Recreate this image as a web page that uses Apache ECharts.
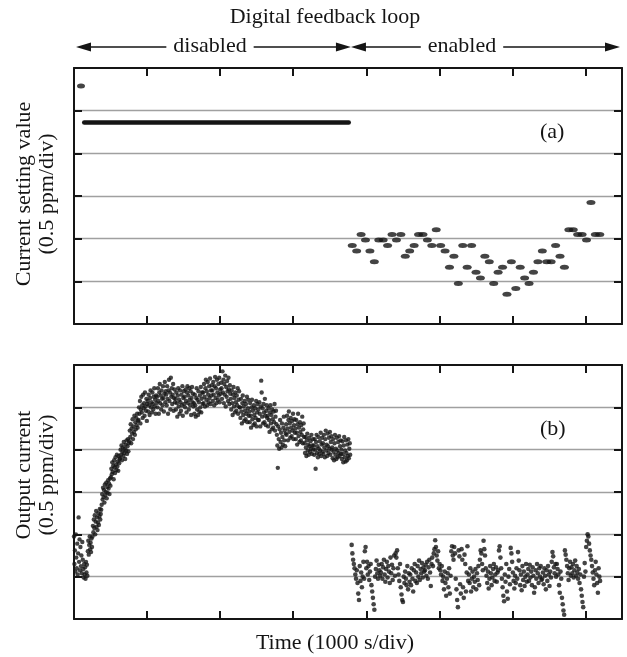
<!DOCTYPE html>
<html>
<head>
<meta charset="utf-8">
<script src="https://cdn.jsdelivr.net/npm/echarts@6/dist/echarts.min.js"></script>
<style>
  html, body { margin: 0; padding: 0; background: #fff; }
  #chart { width: 627px; height: 657px; }
</style>
</head>
<body>
<div id="chart"></div>
<script>
// Units: time in divisions (1000 s/div), values in divisions (0.5 ppm/div).

// Digital feedback loop switch-over time
const switchTime = 3.79;

// (a) current setting value
const settingInitial = [[0.096, 5.58]];
const settingHeld = { start: 0.14, end: 3.76, value: 4.72 };
const settingStart = 3.808;   // first sample after enabling
const settingPeriod = 0.0605; // sample period (div)
const settingValues = [
  1.84, 1.71, 2.095, 1.97, 1.71, 1.46, 1.97, 1.97, 1.84, 2.095,
  1.97, 2.095, 1.59, 1.71, 1.84, 2.095, 2.095, 1.97, 1.84, 2.21,
  1.84, 1.71, 1.33, 1.59, 0.95, 1.84, 1.33, 1.84, 1.21, 1.08,
  1.59, 1.46, 0.95, 1.21, 1.33, 0.70, 1.46, 0.83, 1.33, 1.08,
  0.95, 1.21, 1.46, 1.71, 1.46, 1.46, 1.84, 1.59, 1.33, 2.21,
  2.21, 2.095, 2.095, 1.97, 2.85, 2.095, 2.095
];

// (b) output current, loop disabled
const outputOffSpan = [0.0, 3.78];
const outputOff = [
  1.95, 1.30, 1.62, 1.12, 2.00, 1.45, 1.20, 1.78, 1.05, 1.55, 2.40, 1.35, 1.88, 1.15, 1.70, 1.25, 1.50, 1.08, 1.82, 1.40,
  1.18, 0.98, 1.30, 1.05, 1.22, 0.95, 1.35, 1.10, 1.28, 1.02, 1.60, 1.85, 1.52, 1.75, 1.95, 1.65, 1.80, 1.58, 1.90, 1.70,
  1.95, 2.20, 2.05, 2.35, 2.15, 2.45, 2.00, 2.30, 2.55, 2.18, 2.40, 2.10, 2.28, 2.50, 2.22, 2.42, 2.60, 2.35, 2.48, 2.58,
  2.70, 2.95, 2.82, 3.10, 2.88, 3.05, 2.75, 3.18, 2.92, 3.00, 3.22, 2.85, 3.12, 2.98, 3.28, 3.08, 3.20, 2.95, 3.32, 3.15,
  3.35, 3.55, 3.42, 3.70, 3.48, 3.62, 3.30, 3.75, 3.58, 3.45, 3.82, 3.65, 3.52, 3.88, 3.60, 3.72, 3.50, 3.85, 3.68, 3.78,
  3.80, 4.00, 3.88, 4.10, 3.75, 3.95, 4.05, 3.85, 4.18, 3.92, 4.02, 3.78, 4.12, 3.98, 4.22, 3.90, 4.08, 4.25, 3.96, 4.15,
  4.20, 4.45, 4.30, 4.60, 4.15, 4.50, 4.38, 4.72, 4.25, 4.55, 4.42, 4.80, 4.35, 4.65, 4.48, 4.75, 4.58, 4.85, 4.52, 4.68,
  4.70, 5.00, 4.85, 5.15, 4.62, 4.95, 5.25, 4.88, 5.05, 4.75, 5.30, 4.98, 5.10, 4.80, 5.35, 5.02, 4.92, 5.20, 4.68, 5.08,
  5.15, 4.90, 5.30, 5.05, 4.82, 5.22, 5.40, 5.00, 5.12, 4.88, 5.35, 5.08, 4.95, 5.25, 5.45, 5.02, 5.18, 4.85, 5.28, 5.10,
  5.25, 5.00, 5.45, 5.15, 4.85, 5.35, 5.55, 5.10, 5.28, 4.95, 5.40, 5.20, 5.05, 5.50, 5.22, 4.90, 5.32, 5.60, 5.12, 5.38,
  5.30, 5.05, 5.50, 5.20, 4.85, 5.40, 5.65, 5.15, 5.35, 4.95, 5.70, 5.25, 5.45, 5.08, 5.30, 5.55, 4.92, 5.22, 5.42, 5.12,
  5.20, 4.95, 5.35, 5.10, 4.78, 5.28, 5.45, 5.02, 5.18, 4.85, 5.40, 5.12, 4.92, 5.30, 5.05, 5.50, 4.80, 5.22, 5.38, 5.08,
  5.25, 5.00, 5.42, 5.15, 4.88, 5.35, 5.50, 5.10, 5.28, 4.95, 5.45, 5.18, 5.05, 5.38, 4.82, 5.22, 5.48, 5.12, 5.32, 5.02,
  5.10, 4.85, 5.30, 5.05, 4.78, 5.22, 5.45, 4.95, 5.18, 4.82, 5.38, 5.12, 4.90, 5.28, 5.00, 5.48, 4.88, 5.20, 5.35, 5.08,
  5.35, 5.10, 5.55, 5.25, 5.02, 5.45, 5.65, 5.18, 5.38, 5.05, 5.60, 5.30, 5.12, 5.50, 5.22, 5.68, 5.08, 5.40, 5.28, 5.52,
  5.40, 5.15, 5.60, 5.30, 5.05, 5.50, 5.72, 5.22, 5.45, 5.10, 5.65, 5.35, 5.18, 5.55, 5.28, 5.70, 5.12, 5.42, 5.32, 5.58,
  5.45, 5.20, 5.85, 5.35, 5.65, 5.10, 5.55, 5.30, 5.75, 5.02, 5.48, 5.25, 5.62, 5.38, 5.15, 5.70, 5.42, 5.08, 5.52, 5.32,
  5.20, 4.95, 5.40, 5.10, 4.82, 5.30, 5.48, 5.02, 5.22, 4.88, 5.35, 5.12, 4.92, 5.28, 5.05, 5.45, 4.85, 5.18, 5.38, 5.00,
  5.00, 4.75, 5.20, 4.90, 4.62, 5.10, 5.28, 4.82, 5.02, 4.68, 5.15, 4.92, 4.72, 5.08, 4.85, 5.25, 4.65, 4.98, 5.18, 4.80,
  4.90, 4.65, 5.10, 4.80, 4.52, 5.00, 5.18, 4.72, 4.92, 4.58, 5.05, 4.82, 4.62, 4.98, 4.75, 5.15, 4.55, 4.88, 5.08, 4.70,
  4.95, 4.70, 5.12, 4.85, 4.55, 5.02, 5.63, 5.35, 4.78, 4.98, 4.62, 5.08, 4.88, 4.65, 5.20, 4.80, 4.58, 4.92, 5.05, 4.75,
  4.80, 4.55, 4.98, 4.70, 4.42, 4.88, 5.05, 4.62, 4.82, 4.48, 4.95, 4.72, 4.52, 4.90, 4.65, 5.08, 4.45, 4.78, 4.92, 4.60,
  4.35, 4.10, 3.57, 4.55, 4.25, 4.02, 4.48, 4.70, 4.18, 4.40, 4.05, 4.62, 4.30, 4.12, 4.52, 4.78, 4.22, 4.45, 4.08, 4.38,
  4.60, 4.35, 4.80, 4.50, 4.22, 4.70, 4.90, 4.42, 4.62, 4.28, 4.75, 4.52, 4.32, 4.68, 4.45, 4.85, 4.25, 4.58, 4.72, 4.40,
  4.50, 4.25, 4.70, 4.40, 4.12, 4.60, 4.85, 4.32, 4.52, 4.18, 4.65, 4.42, 4.22, 4.58, 4.35, 4.78, 4.15, 4.48, 4.62, 4.30,
  4.15, 3.92, 4.30, 4.05, 3.85, 4.22, 4.38, 3.98, 4.12, 3.88, 4.28, 4.08, 3.95, 4.20, 4.02, 4.35, 3.90, 4.10, 4.25, 4.00,
  4.10, 3.88, 4.25, 4.00, 3.55, 4.18, 4.35, 3.92, 4.08, 3.82, 4.30, 4.02, 3.90, 4.20, 3.98, 4.40, 3.85, 4.12, 4.28, 3.95,
  4.15, 3.90, 4.35, 4.05, 3.82, 4.25, 4.45, 3.98, 4.12, 3.85, 4.38, 4.08, 3.92, 4.28, 4.02, 4.42, 3.88, 4.18, 4.32, 4.00,
  4.05, 3.80, 4.25, 3.95, 3.75, 4.15, 4.35, 3.88, 4.02, 3.78, 4.28, 3.98, 3.82, 4.18, 3.92, 4.32, 3.85, 4.08, 4.22, 3.90,
  4.00, 3.78, 4.20, 3.90, 3.70, 4.10, 4.30, 3.82, 3.98, 3.72, 4.22, 3.92, 3.75, 4.12, 3.85, 4.25, 3.80, 4.02, 4.15, 3.88
];

// (b) output current, loop enabled
const outputOnSpan = [3.80, 7.20];
const outputOn = [
  1.75, 1.55, 1.40, 1.30, 1.20, 1.05, 0.95, 1.15, 0.85, 0.60, 0.45, 1.25, 0.90, 1.10, 0.75, 1.00, 1.35, 0.95, 1.60, 1.70,
  1.20, 1.35, 1.05, 1.25, 0.92, 1.12, 1.30, 0.80, 0.65, 0.50, 0.35, 0.22, 1.00, 1.18, 1.38, 1.08, 0.95, 1.28, 1.15, 1.02,
  1.10, 1.30, 0.95, 1.22, 1.40, 1.05, 0.88, 1.18, 1.35, 0.98, 1.25, 1.12, 0.85, 1.45, 1.08, 1.28, 0.92, 1.20, 1.50, 1.02,
  1.55, 1.45, 1.62, 1.20, 1.05, 0.90, 1.30, 0.75, 0.58, 0.45, 0.40, 1.00, 0.85, 1.12, 0.95, 0.80, 1.25, 0.70, 1.08, 0.88,
  1.05, 0.80, 1.20, 0.95, 0.65, 1.15, 1.30, 0.90, 1.10, 0.85, 1.25, 1.00, 1.38, 0.92, 1.18, 1.08, 1.32, 0.98, 1.22, 1.12,
  1.15, 1.28, 1.02, 1.35, 0.95, 1.22, 1.40, 1.10, 0.78, 1.30, 1.45, 1.25, 1.55, 1.65, 1.86, 1.70, 1.50, 1.38, 1.60, 1.20,
  1.30, 1.15, 1.05, 1.25, 0.90, 1.00, 0.70, 1.12, 0.85, 0.55, 0.95, 1.08, 0.75, 1.20, 0.60, 1.02, 1.60, 1.72, 1.50, 1.40,
  1.70, 1.55, 0.95, 0.70, 0.45, 0.28, 1.62, 1.48, 0.82, 0.60, 1.65, 1.40, 0.75, 0.50, 1.52, 1.30, 0.65, 1.10, 1.72, 0.90,
  1.05, 0.85, 1.20, 0.65, 0.95, 1.12, 0.75, 1.00, 0.88, 1.18, 0.70, 1.08, 0.92, 1.25, 0.80, 1.40, 1.62, 1.55, 1.30, 1.15,
  1.85, 1.65, 1.50, 1.20, 1.02, 0.85, 1.12, 0.72, 0.95, 1.25, 1.08, 0.80, 0.98, 1.18, 1.30, 0.90, 1.05, 1.22, 0.88, 1.10,
  1.15, 1.62, 1.72, 1.45, 1.20, 0.95, 0.75, 0.55, 0.42, 1.05, 0.88, 1.30, 0.65, 0.48, 1.00, 1.18, 0.82, 1.68, 1.55, 1.35,
  1.10, 0.90, 0.72, 1.02, 0.85, 1.20, 0.95, 1.58, 1.38, 1.15, 0.80, 1.05, 0.68, 1.25, 0.92, 1.12, 0.78, 1.00, 1.30, 0.88,
  1.05, 1.18, 0.90, 1.28, 0.98, 1.12, 0.80, 1.22, 1.02, 0.62, 0.75, 1.15, 0.95, 1.30, 1.08, 0.85, 1.20, 1.00, 1.25, 0.92,
  0.95, 1.10, 0.82, 1.20, 1.02, 0.70, 1.15, 0.90, 1.25, 1.05, 0.78, 1.12, 0.98, 1.35, 1.58, 1.48, 1.22, 1.08, 1.30, 1.00,
  1.30, 1.18, 1.05, 0.80, 0.62, 1.12, 0.95, 0.50, 0.35, 0.20, 0.10, 1.62, 1.52, 1.40, 1.25, 1.08, 0.92, 1.20, 1.35, 1.02,
  1.22, 1.08, 1.30, 0.98, 1.15, 1.38, 1.02, 1.25, 1.10, 0.95, 1.18, 0.85, 1.05, 0.70, 0.55, 0.40, 0.28, 1.00, 1.32, 1.12,
  1.70, 1.85, 2.00, 1.95, 1.78, 1.62, 1.50, 1.40, 1.25, 1.10, 0.95, 0.80, 1.15, 1.35, 1.05, 0.85, 0.62, 1.20, 1.00, 0.90
];

// Text
const titleText = 'Digital feedback loop';
const phaseLabels = ['disabled', 'enabled'];
const xName = 'Time (1000 s/div)';
const yNames = ['Current setting value\n(0.5 ppm/div)', 'Output current\n(0.5 ppm/div)'];
const panelTags = ['(a)', '(b)'];

// ---- helpers ----
const INK = '#151515';
const FONT_FAMILY = '"Liberation Serif", "Times New Roman", serif';
const FONT_SIZE = 22;
const FONT = FONT_SIZE + 'px ' + FONT_FAMILY;
const ELLIPSE = 'path://M0,1 A1,1 0 1,1 2,1 A1,1 0 1,1 0,1 Z';

function spread(values, span) {
  const n = values.length;
  const step = (span[1] - span[0]) / (n - 1);
  return values.map((v, i) => [span[0] + i * step, v]);
}
const settingPoints = settingValues.map((v, i) => [settingStart + i * settingPeriod, v]);
const settingHeldLine = [[settingHeld.start, settingHeld.value], [settingHeld.end, settingHeld.value]];

const grids = [
  { left: 74, top: 68, width: 548, height: 256, outerBoundsMode: 'none', containLabel: false },
  { left: 74, top: 365, width: 548, height: 254, outerBoundsMode: 'none', containLabel: false }
];

const axisLine = { show: true, onZero: false, lineStyle: { color: INK, width: 2 } };
const axisTick = { show: true, inside: true, length: 8, lineStyle: { color: INK, width: 2 } };
function xAxisFor(gridIndex, position) {
  return {
    type: 'value', gridIndex, position, min: 0, max: 7.5, interval: 1,
    axisLine, axisTick, axisLabel: { show: false }, splitLine: { show: false }
  };
}
function yAxisFor(gridIndex, position, grid) {
  return {
    type: 'value', gridIndex, position, min: 0, max: 6, interval: 1,
    axisLine, axisTick, axisLabel: { show: false },
    splitLine: grid ? { show: true, showMinLine: false, showMaxLine: false, lineStyle: { color: '#a0a0a0', width: 1.3 } } : { show: false }
  };
}

const chart = echarts.init(document.getElementById('chart'), null, { renderer: 'canvas' });

chart.setOption({
  animation: false,
  backgroundColor: '#fff',
  grid: grids,
  xAxis: [xAxisFor(0, 'bottom'), xAxisFor(0, 'top'), xAxisFor(1, 'bottom'), xAxisFor(1, 'top')],
  yAxis: [yAxisFor(0, 'left', true), yAxisFor(0, 'right', false), yAxisFor(1, 'left', true), yAxisFor(1, 'right', false)],
  series: [
    {
      name: 'setting held', type: 'line', xAxisIndex: 0, yAxisIndex: 0,
      data: settingHeldLine, symbol: 'none', silent: true,
      lineStyle: { color: INK, width: 4.5, cap: 'round' }
    },
    {
      name: 'setting initial', type: 'scatter', xAxisIndex: 0, yAxisIndex: 0,
      data: settingInitial, symbol: ELLIPSE, symbolSize: [8, 5],
      itemStyle: { color: INK }, clip: false
    },
    {
      name: 'setting feedback', type: 'scatter', xAxisIndex: 0, yAxisIndex: 0,
      data: settingPoints, symbol: ELLIPSE, symbolSize: [9, 5],
      itemStyle: { color: INK }, clip: false
    },
    {
      name: 'output off', type: 'scatter', xAxisIndex: 2, yAxisIndex: 2,
      data: spread(outputOff, outputOffSpan), symbol: 'circle', symbolSize: 4.4,
      itemStyle: { color: INK }, clip: false, large: false
    },
    {
      name: 'output on', type: 'scatter', xAxisIndex: 2, yAxisIndex: 2,
      data: spread(outputOn, outputOnSpan), symbol: 'circle', symbolSize: 4.6,
      itemStyle: { color: INK }, clip: false, large: false
    }
  ]
});

// ---- annotations: title, phase arrows, axis titles, panel tags ----
function textWidth(str) {
  return new echarts.graphic.Text({ style: { text: str, font: FONT } }).getBoundingRect().width;
}
const xPix = t => chart.convertToPixel({ xAxisIndex: 0 }, t);
const x0 = xPix(0), xs = xPix(switchTime), x1 = xPix(7.5);
const arrowY = 47, titleY = 17;
const headLen = 15, headHalf = 4.5;

const elements = [];
elements.push({
  type: 'text', x: 325, y: titleY,
  style: { text: titleText, font: FONT, fill: INK, align: 'center', verticalAlign: 'middle' }
});

function phaseArrow(left, right, label, mid) {
  const half = textWidth(label) / 2 + 7;
  elements.push({
    type: 'text', x: mid, y: arrowY - 1,
    style: { text: label, font: FONT, fill: INK, align: 'center', verticalAlign: 'middle' }
  });
  elements.push({ type: 'line', shape: { x1: left + headLen - 2, y1: arrowY, x2: mid - half, y2: arrowY }, style: { stroke: INK, lineWidth: 1.6 } });
  elements.push({ type: 'line', shape: { x1: mid + half, y1: arrowY, x2: right - headLen + 2, y2: arrowY }, style: { stroke: INK, lineWidth: 1.6 } });
  elements.push({ type: 'polygon', shape: { points: [[left, arrowY], [left + headLen, arrowY - headHalf], [left + headLen, arrowY + headHalf]] }, style: { fill: INK } });
  elements.push({ type: 'polygon', shape: { points: [[right, arrowY], [right - headLen, arrowY - headHalf], [right - headLen, arrowY + headHalf]] }, style: { fill: INK } });
}
phaseArrow(x0 + 2, xs, phaseLabels[0], 210);
phaseArrow(xs, x1 - 2, phaseLabels[1], 462);

elements.push({
  type: 'text', x: 335, y: 643,
  style: { text: xName, font: FONT, fill: INK, align: 'center', verticalAlign: 'middle' }
});

grids.forEach((g, i) => {
  elements.push({
    type: 'text', x: 36, y: i === 0 ? g.top + g.height / 2 - 2 : g.top + g.height / 2 - 17,
    rotation: Math.PI / 2,
    style: { text: yNames[i], font: FONT, fill: INK, align: 'center', verticalAlign: 'middle', lineHeight: 23 }
  });
  elements.push({
    type: 'text', x: 540, y: g.top + 64,
    style: { text: panelTags[i], font: FONT, fill: INK, align: 'left', verticalAlign: 'middle' }
  });
});

chart.setOption({ graphic: { elements } });
</script>
</body>
</html>
